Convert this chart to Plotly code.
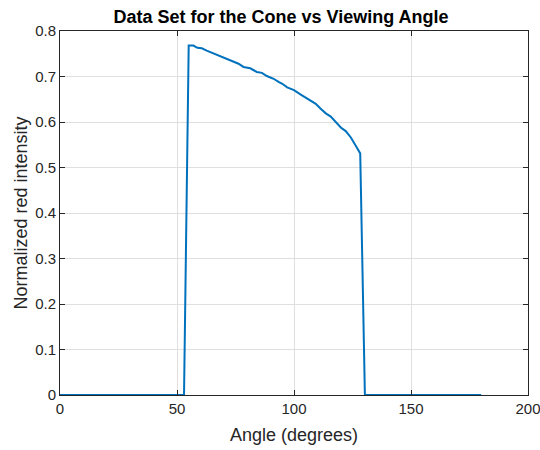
import plotly.graph_objects as go

angle_deg = [0, 53, 55, 57, 58.7, 60.6, 62.7, 67, 71.3, 76.3, 78.4, 81.3, 84.1, 86.3,
             88.4, 91.3, 93.4, 95.0, 97.1, 100, 102.9, 105, 107.1, 109.3, 111.4,
             113.6, 115.7, 117.9, 120, 122.1, 124.3, 126.4, 128.3, 130.3, 180]
red_intensity = [0, 0, 0.768, 0.768, 0.763, 0.762, 0.757, 0.748, 0.739, 0.728, 0.721,
                 0.718, 0.710, 0.708, 0.701, 0.695, 0.688, 0.684, 0.676, 0.670, 0.660,
                 0.654, 0.647, 0.640, 0.629, 0.619, 0.612, 0.599, 0.588, 0.580, 0.566,
                 0.548, 0.531, 0, 0]

x_ticks = [0, 50, 100, 150, 200]
x_tick_labels = ["0", "50", "100", "150", "200"]
y_ticks = [0, 0.1, 0.2, 0.3, 0.4, 0.5, 0.6, 0.7, 0.8]
y_tick_labels = ["0", "0.1", "0.2", "0.3", "0.4", "0.5", "0.6", "0.7", "0.8"]

FONT = "Liberation Sans, Arial"
W, H = 540, 450

fig = go.Figure()
fig.add_trace(go.Scatter(x=angle_deg, y=red_intensity, mode="lines",
                         line=dict(color="#0072BD", width=2), showlegend=False))

axis_common = dict(showline=True, linecolor="#262626", linewidth=1, mirror="ticks",
                   ticks="inside", ticklen=5, tickcolor="#262626", automargin=False,
                   showgrid=True, gridcolor="#DFDFDF", gridwidth=1, zeroline=False,
                   ticklabeloverflow="allow",
                   tickfont=dict(family=FONT, size=15, color="#262626"))

fig.update_layout(
    width=W, height=H,
    margin=dict(l=60, r=12, t=31, b=55, autoexpand=False),
    paper_bgcolor="white", plot_bgcolor="white",
    title=dict(text="<b>Data Set for the Cone vs Viewing Angle</b>", xref="container",
               x=281 / W, xanchor="center",
               y=1 - 17 / H, yanchor="middle",
               font=dict(family=FONT, size=18, color="#000000")),
    xaxis=dict(range=[0, 200.001], tickvals=x_ticks, ticktext=x_tick_labels,
               title=dict(text="Angle (degrees)", standoff=12,
                          font=dict(family=FONT, size=18, color="#262626")),
               **axis_common),
    yaxis=dict(range=[0, 0.8], tickvals=y_ticks, ticktext=y_tick_labels,
               title=dict(text="Normalized red intensity", standoff=2,
                          font=dict(family=FONT, size=18, color="#262626")),
               **axis_common),
)

fig.write_html("out.html", config={"displayModeBar": False},
               post_script="document.body.style.margin='0';document.body.style.overflow='hidden';")
